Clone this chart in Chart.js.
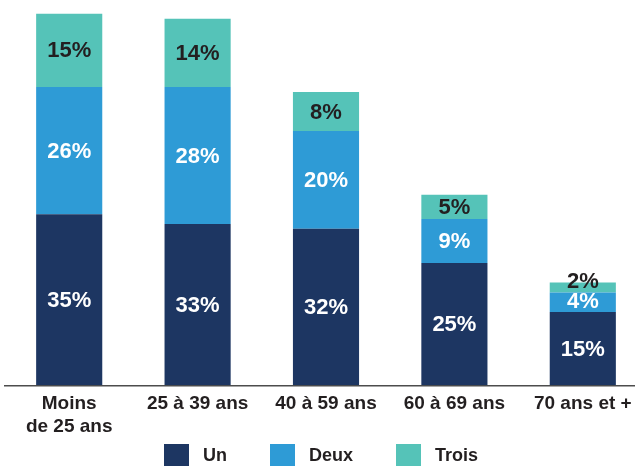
<!DOCTYPE html>
<html>
<head>
<meta charset="utf-8">
<script src="https://cdn.jsdelivr.net/npm/chart.js@4"></script>
<style>
  html, body { margin: 0; padding: 0; background: #fff; overflow: hidden; }
  #wrap { width: 650px; height: 479px; position: relative; }
</style>
</head>
<body>
<div id="wrap"><canvas id="chart"></canvas></div>
<script>
const categories = [['Moins', 'de 25 ans'], '25 à 39 ans', '40 à 59 ans', '60 à 69 ans', '70 ans et +'];
const seriesNames = ['Un', 'Deux', 'Trois'];
const un = [35, 33, 32, 25, 15];
const deux = [26, 28, 20, 9, 4];
const trois = [15, 14, 8, 5, 2];

const colors = ['#1d3662', '#2e9bd6', '#55c3b8'];
const labelColors = ['#ffffff', '#ffffff', '#231f20'];
const FONT = '"Liberation Sans", Arial, Helvetica, sans-serif';

// values written in the middle of each segment
const barLabels = {
  id: 'barLabels',
  afterDatasetsDraw(chart) {
    const ctx = chart.ctx;
    chart.data.datasets.forEach((ds, i) => {
      const meta = chart.getDatasetMeta(i);
      meta.data.forEach((bar, j) => {
        const p = bar.getProps(['x', 'y', 'base'], true);
        let y = (p.y + p.base) / 2 + 1;
        y = Math.min(y, p.base - 10); // thin segments: keep text clear of the one below
        ctx.save();
        ctx.font = 'bold 22px ' + FONT;
        ctx.fillStyle = labelColors[i];
        ctx.textAlign = 'center';
        ctx.textBaseline = 'middle';
        ctx.fillText(ds.data[j] + '%', p.x, y);
        ctx.restore();
      });
    });
  }
};

new Chart('chart', {
  type: 'bar',
  data: {
    labels: categories,
    datasets: [
      { label: seriesNames[0], data: un, backgroundColor: colors[0] },
      { label: seriesNames[1], data: deux, backgroundColor: colors[1] },
      { label: seriesNames[2], data: trois, backgroundColor: colors[2] }
    ]
  },
  options: {
    responsive: true,
    maintainAspectRatio: false,
    animation: false,
    datasets: { bar: { barPercentage: 0.515, categoryPercentage: 1 } },
    layout: { padding: { top: 4, left: 5, right: 3, bottom: 0 } },
    scales: {
      x: {
        stacked: true,
        grid: { display: false, drawTicks: false },
        border: { display: true, color: '#4d4d4d', width: 1.5 },
        afterFit(scale) { scale.height = 50.75; },
        ticks: {
          padding: 6.25,
          color: '#231f20',
          maxRotation: 0,
          autoSkip: false,
          font: { family: FONT, size: 19, weight: 'bold', lineHeight: 1.24 }
        }
      },
      y: {
        stacked: true,
        display: false,
        min: 0,
        max: 78
      }
    },
    plugins: {
      tooltip: { enabled: false },
      legend: {
        position: 'bottom',
        labels: {
          boxWidth: 25,
          boxHeight: 25,
          padding: 8,
          color: '#231f20',
          font: { family: FONT, size: 18, weight: 'bold' },
          generateLabels(chart) {
            const items = Chart.defaults.plugins.legend.labels.generateLabels(chart);
            items.forEach((it, i) => {
              it.text = ' ' + it.text + (i < items.length - 1 ? '       ' : '  ');
              it.lineWidth = 0;
            });
            return items;
          }
        }
      }
    }
  },
  plugins: [barLabels]
});
</script>
</body>
</html>
